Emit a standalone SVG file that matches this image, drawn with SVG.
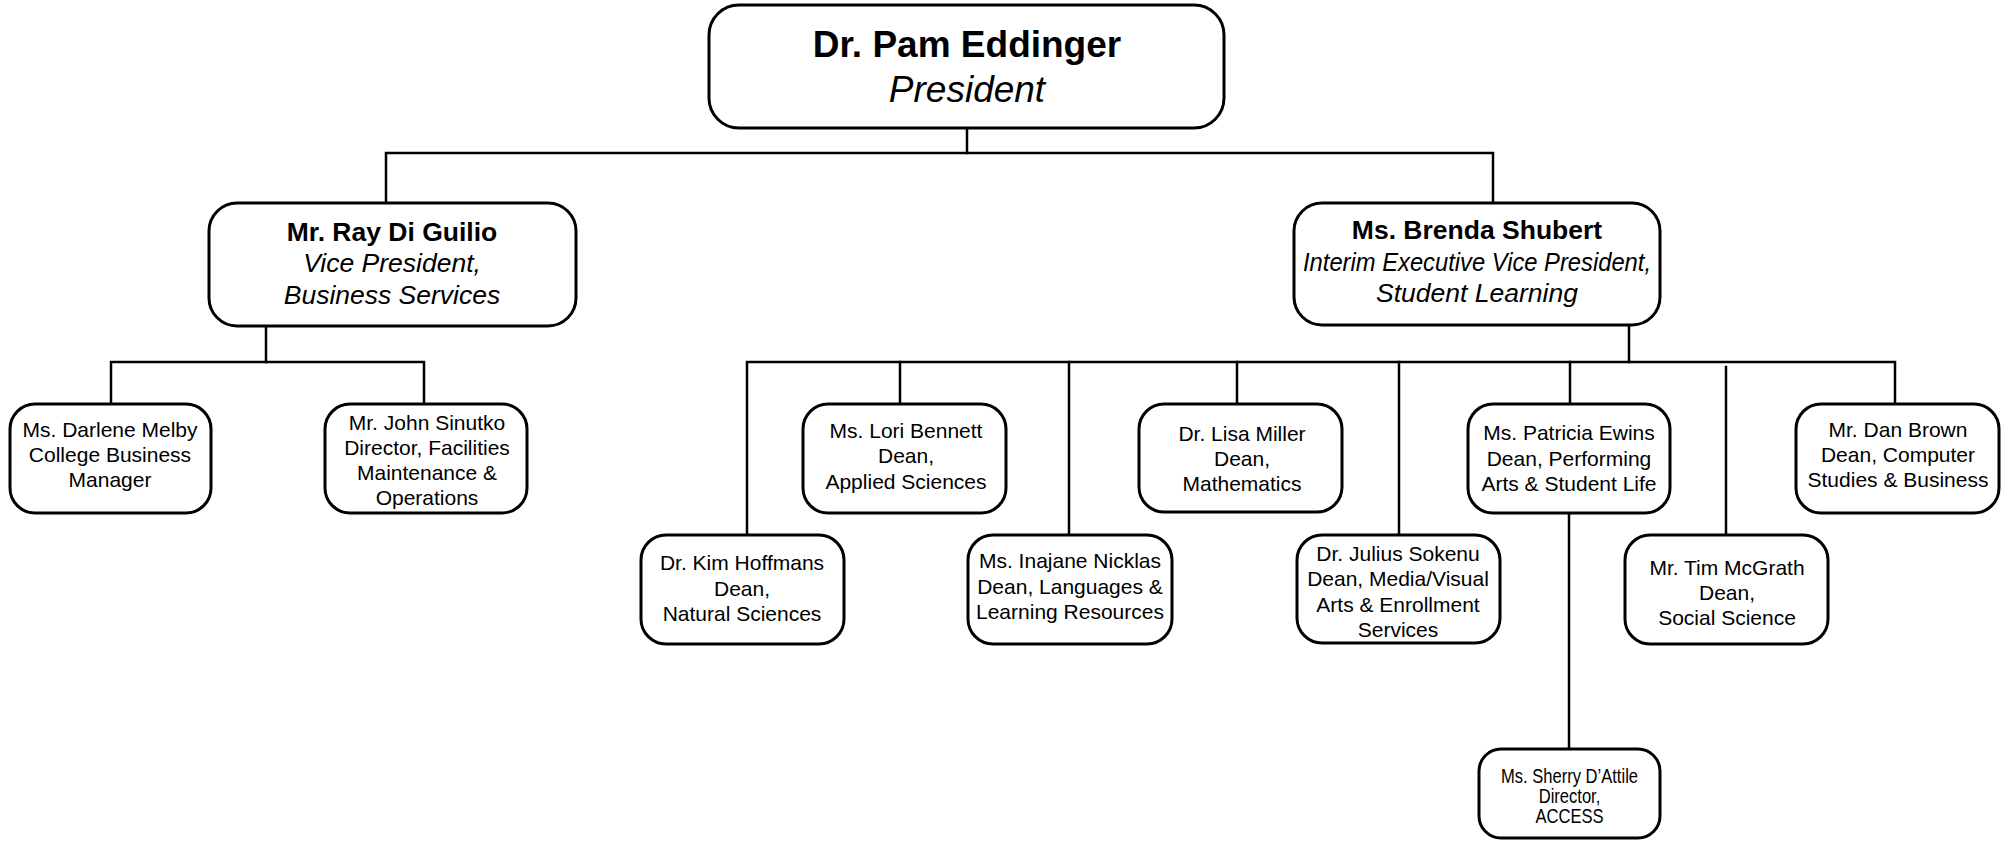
<svg xmlns="http://www.w3.org/2000/svg" width="2007" height="841" viewBox="0 0 2007 841">
<style>
  .box { fill: #ffffff; stroke: #000000; stroke-width: 3; }
  .conn { fill: none; stroke: #000000; stroke-width: 2.5; stroke-linecap: square; }
  text { font-family: "Liberation Sans", Arial, sans-serif; fill: #000000; text-anchor: middle; }
  .t1b { font-size: 37px; font-weight: bold; }
  .t1i { font-size: 37px; font-style: italic; }
  .t2b { font-size: 26.5px; font-weight: bold; }
  .t2i { font-size: 26.5px; font-style: italic; }
  .t3 { font-size: 21px; }
  .t4 { font-size: 19.5px; }
</style>
<rect width="2007" height="841" fill="#ffffff"/>

<g id="connectors">
  <polyline class="conn" points="967,128 967,153"/>
  <polyline class="conn" points="386,203 386,153 1493,153 1493,203"/>
  <polyline class="conn" points="266,326 266,362"/>
  <polyline class="conn" points="111,404 111,362 424,362 424,404"/>
  <polyline class="conn" points="1629,325 1629,362"/>
  <polyline class="conn" points="747,535 747,362 1895,362 1895,404"/>
  <line class="conn" x1="900" y1="362" x2="900" y2="404"/>
  <line class="conn" x1="1069" y1="362" x2="1069" y2="535"/>
  <line class="conn" x1="1237" y1="362" x2="1237" y2="404"/>
  <line class="conn" x1="1399" y1="362" x2="1399" y2="535"/>
  <line class="conn" x1="1570" y1="362" x2="1570" y2="404"/>
  <line class="conn" x1="1726" y1="367" x2="1726" y2="535"/>
  <line class="conn" x1="1569" y1="513" x2="1569" y2="749"/>
</g>

<g id="president">
  <rect class="box" x="709" y="5" width="515" height="123" rx="30" ry="30"/>
  <text class="t1b" x="967" y="57">Dr. Pam Eddinger</text>
  <text class="t1i" x="967" y="102">President</text>
</g>

<g id="ray">
  <rect class="box" x="209" y="203" width="367" height="123" rx="28" ry="28"/>
  <text class="t2b" x="392" y="241">Mr. Ray Di Guilio</text>
  <text class="t2i" x="392" y="272">Vice President,</text>
  <text class="t2i" x="392" y="304">Business Services</text>
</g>

<g id="brenda">
  <rect class="box" x="1294" y="203" width="366" height="122" rx="28" ry="28"/>
  <text class="t2b" x="1477" y="239">Ms. Brenda Shubert</text>
  <text class="t2i" x="1477" y="271" textLength="348" lengthAdjust="spacingAndGlyphs">Interim Executive Vice President,</text>
  <text class="t2i" x="1477" y="302">Student Learning</text>
</g>

<g id="darlene">
  <rect class="box" x="10" y="404" width="201" height="109" rx="25" ry="25"/>
  <text class="t3" x="110" y="437">Ms. Darlene Melby</text>
  <text class="t3" x="110" y="462">College Business</text>
  <text class="t3" x="110" y="487">Manager</text>
</g>

<g id="john">
  <rect class="box" x="325" y="404" width="202" height="109" rx="25" ry="25"/>
  <text class="t3" x="427" y="430">Mr. John Sinutko</text>
  <text class="t3" x="427" y="455">Director, Facilities</text>
  <text class="t3" x="427" y="480">Maintenance &amp;</text>
  <text class="t3" x="427" y="505">Operations</text>
</g>

<g id="kim">
  <rect class="box" x="641" y="535" width="203" height="109" rx="25" ry="25"/>
  <text class="t3" x="742" y="570">Dr. Kim Hoffmans</text>
  <text class="t3" x="742" y="596">Dean,</text>
  <text class="t3" x="742" y="621">Natural Sciences</text>
</g>

<g id="lori">
  <rect class="box" x="803" y="404" width="203" height="109" rx="25" ry="25"/>
  <text class="t3" x="906" y="438">Ms. Lori Bennett</text>
  <text class="t3" x="906" y="463">Dean,</text>
  <text class="t3" x="906" y="489">Applied Sciences</text>
</g>

<g id="inajane">
  <rect class="box" x="968" y="535" width="204" height="109" rx="25" ry="25"/>
  <text class="t3" x="1070" y="568">Ms. Inajane Nicklas</text>
  <text class="t3" x="1070" y="594">Dean, Languages &amp;</text>
  <text class="t3" x="1070" y="619">Learning Resources</text>
</g>

<g id="lisa">
  <rect class="box" x="1139" y="404" width="203" height="108" rx="25" ry="25"/>
  <text class="t3" x="1242" y="441">Dr. Lisa Miller</text>
  <text class="t3" x="1242" y="466">Dean,</text>
  <text class="t3" x="1242" y="491">Mathematics</text>
</g>

<g id="julius">
  <rect class="box" x="1297" y="535" width="203" height="108" rx="25" ry="25"/>
  <text class="t3" x="1398" y="561">Dr. Julius Sokenu</text>
  <text class="t3" x="1398" y="586">Dean, Media/Visual</text>
  <text class="t3" x="1398" y="612">Arts &amp; Enrollment</text>
  <text class="t3" x="1398" y="637">Services</text>
</g>

<g id="patricia">
  <rect class="box" x="1468" y="404" width="202" height="109" rx="25" ry="25"/>
  <text class="t3" x="1569" y="440">Ms. Patricia Ewins</text>
  <text class="t3" x="1569" y="466">Dean, Performing</text>
  <text class="t3" x="1569" y="491">Arts &amp; Student Life</text>
</g>

<g id="tim">
  <rect class="box" x="1625" y="535" width="203" height="109" rx="25" ry="25"/>
  <text class="t3" x="1727" y="575">Mr. Tim McGrath</text>
  <text class="t3" x="1727" y="600">Dean,</text>
  <text class="t3" x="1727" y="625">Social Science</text>
</g>

<g id="dan">
  <rect class="box" x="1796" y="404" width="203" height="109" rx="25" ry="25"/>
  <text class="t3" x="1898" y="437">Mr. Dan Brown</text>
  <text class="t3" x="1898" y="462">Dean, Computer</text>
  <text class="t3" x="1898" y="487">Studies &amp; Business</text>
</g>

<g id="sherry">
  <rect class="box" x="1479" y="749" width="181" height="89" rx="22" ry="22"/>
  <g transform="translate(1569.5 0) scale(0.85 1)">
    <text class="t4" x="0" y="783">Ms. Sherry D’Attile</text>
    <text class="t4" x="0" y="803">Director,</text>
    <text class="t4" x="0" y="823">ACCESS</text>
  </g>
</g>
</svg>
